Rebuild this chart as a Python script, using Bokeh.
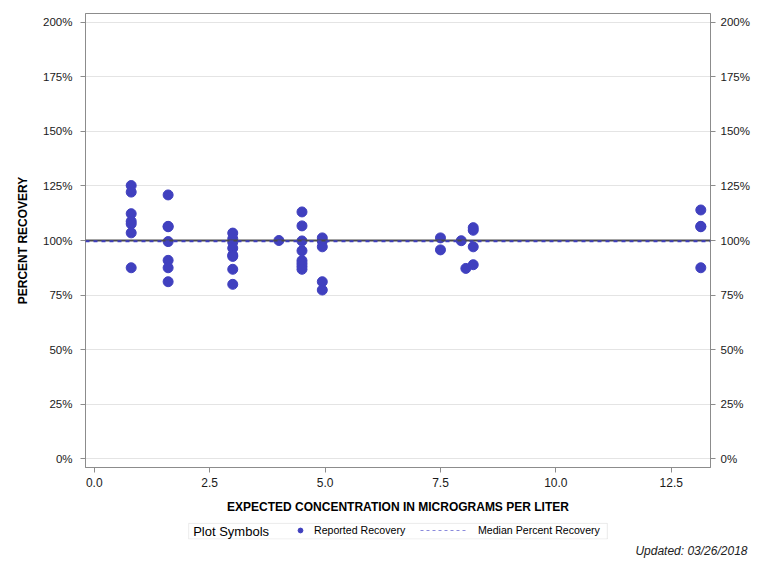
from bokeh.plotting import figure
from bokeh.layouts import column
from bokeh.models import (Range1d, LinearAxis, FixedTicker, Span, Legend, LegendItem,
                          Title, Label, BoxAnnotation, ColumnDataSource)
from bokeh.embed import file_html
from bokeh.resources import INLINE

# ---- data ----
concentration = [0.8, 0.8, 0.8, 0.8, 0.8, 0.8, 0.8,
                 1.6, 1.6, 1.6, 1.6, 1.6, 1.6, 1.6,
                 3.0, 3.0, 3.0, 3.0, 3.0, 3.0, 3.0, 3.0,
                 4.0,
                 4.5, 4.5, 4.5, 4.5, 4.5, 4.5, 4.5, 4.5,
                 4.94, 4.94, 4.94, 4.94, 4.94,
                 7.5, 7.5,
                 7.95, 8.05,
                 8.21, 8.21, 8.21, 8.21,
                 13.14, 13.14, 13.14, 13.14]
recovery = [125.2, 122.2, 112.3, 108.8, 107.6, 103.5, 87.5,
            120.9, 106.5, 106.3, 99.5, 90.9, 87.5, 81.1,
            103.4, 100.8, 99.2, 96.5, 93.3, 92.7, 86.8, 79.9,
            100.0,
            113.1, 106.7, 99.8, 95.3, 90.8, 89.5, 88.2, 86.8,
            101.2, 99.7, 97.1, 81.1, 77.3,
            101.2, 95.7,
            99.9, 87.2,
            105.9, 104.7, 97.1, 88.9,
            114.0, 106.5, 106.3, 87.5]
median_recovery = 99.6
reference_recovery = 100.0

x_ticks = [0, 2.5, 5, 7.5, 10, 12.5]
x_tick_labels = ["0.0", "2.5", "5.0", "7.5", "10.0", "12.5"]
y_ticks = [0, 25, 50, 75, 100, 125, 150, 175, 200]
y_tick_labels = ["0%", "25%", "50%", "75%", "100%", "125%", "150%", "175%", "200%"]

FONT = "Liberation Sans"
NARROW = "Liberation Sans Narrow, Arial Narrow, Liberation Sans"
POINT_COLOR = "#4040BF"
AXIS_GRAY = "#8C8C8C"

# ---------------- main chart ----------------
p = figure(width=752, height=516, output_backend="svg", toolbar_location=None,
           x_range=Range1d(-0.19, 13.35), y_range=Range1d(-4.1, 204.1),
           min_border_left=85, min_border_right=40, min_border_top=13, min_border_bottom=47)
p.outline_line_color = AXIS_GRAY
p.background_fill_color = "white"
p.border_fill_color = "white"

def style_axis(ax, ticks, labels, font, size):
    ax.ticker = FixedTicker(ticks=ticks)
    ax.major_label_overrides = {t: l for t, l in zip(ticks, labels)}
    ax.axis_line_color = AXIS_GRAY
    ax.major_tick_line_color = AXIS_GRAY
    ax.major_tick_out = 5
    ax.major_tick_in = 0
    ax.minor_tick_line_color = None
    ax.major_label_text_font = font
    ax.major_label_text_font_size = size
    ax.major_label_text_color = "#1A1A1A"
    ax.axis_label_text_font = FONT
    ax.axis_label_text_font_size = "12px"
    ax.axis_label_text_font_style = "bold"
    ax.axis_label_text_color = "black"

style_axis(p.xaxis[0], x_ticks, x_tick_labels, NARROW, "12px")
p.xaxis[0].axis_label = "EXPECTED CONCENTRATION IN MICROGRAMS PER LITER"
p.xaxis[0].major_label_standoff = 5
p.xaxis[0].axis_label_standoff = 10

style_axis(p.yaxis[0], y_ticks, y_tick_labels, FONT, "11.5px")
p.yaxis[0].axis_label = "PERCENT RECOVERY"
p.yaxis[0].major_label_standoff = 8
p.yaxis[0].axis_label_standoff = 10

right_axis = LinearAxis()
style_axis(right_axis, y_ticks, y_tick_labels, FONT, "11.5px")
right_axis.major_label_standoff = 5
p.add_layout(right_axis, "right")

p.xgrid.visible = False
p.ygrid.ticker = FixedTicker(ticks=y_ticks)
p.ygrid.grid_line_color = "#E4E4E4"

p.add_layout(Span(location=reference_recovery, dimension="width",
                  line_color="#4A4A4A", line_width=2))
p.add_layout(Span(location=median_recovery, dimension="width",
                  line_color=POINT_COLOR, line_width=2, line_dash="4 4"))

src = ColumnDataSource(dict(x=concentration, y=recovery))
p.scatter("x", "y", source=src, size=10, fill_color=POINT_COLOR, line_color=POINT_COLOR)

# ---------------- legend strip (pixel-coordinate frame) ----------------
lg = figure(width=752, height=44, output_backend="svg", toolbar_location=None,
            x_range=Range1d(85, 712), y_range=Range1d(541, 516),
            x_axis_type=None, y_axis_type=None,
            min_border_left=85, min_border_right=40, min_border_top=0, min_border_bottom=19)
lg.grid.visible = False
lg.outline_line_color = None
lg.border_fill_color = "white"
lg.background_fill_color = "white"

# legend glyph sources: same data as the chart, lying outside this strip's ranges
dot = lg.scatter(concentration, recovery, size=8, fill_color=POINT_COLOR, line_color=POINT_COLOR)
med = lg.line([min(concentration), max(concentration)], [median_recovery, median_recovery],
              line_color="#8A8ADC", line_width=1, line_dash="3 3")

lg.add_layout(BoxAnnotation(left=188.5, right=608.5, top=523.5, bottom=540.5,
                            fill_alpha=0, line_color="#BDBDBD", line_width=1))
lg.add_layout(Label(x=193, y=532, text="Plot Symbols", text_baseline="middle",
                    text_font=FONT, text_font_size="13px", text_color="black"))

def make_legend(item, glyph_w, loc, standoff):
    L = Legend(items=[item], orientation="horizontal", location=loc)
    L.label_text_font = FONT
    L.label_text_font_size = "10.6px"
    L.label_text_color = "black"
    L.border_line_color = None
    L.background_fill_alpha = 0
    L.glyph_width = glyph_w
    L.glyph_height = 12
    L.label_height = 12
    L.label_standoff = standoff
    L.padding = 0
    L.margin = 0
    L.spacing = 0
    return L

lg.add_layout(make_legend(LegendItem(label="Reported Recovery", renderers=[dot]), 22, (204, 3), 3))
lg.add_layout(make_legend(LegendItem(label="Median Percent Recovery", renderers=[med]), 47, (335, 3), 11))

lg.add_layout(Title(text="Updated: 03/26/2018", align="right", text_font=FONT,
                    text_font_size="12px", text_font_style="italic",
                    text_color="#222222", standoff=5, offset=-37), "below")

open("out.html", "w").write(file_html(column(p, lg, spacing=0), INLINE))
